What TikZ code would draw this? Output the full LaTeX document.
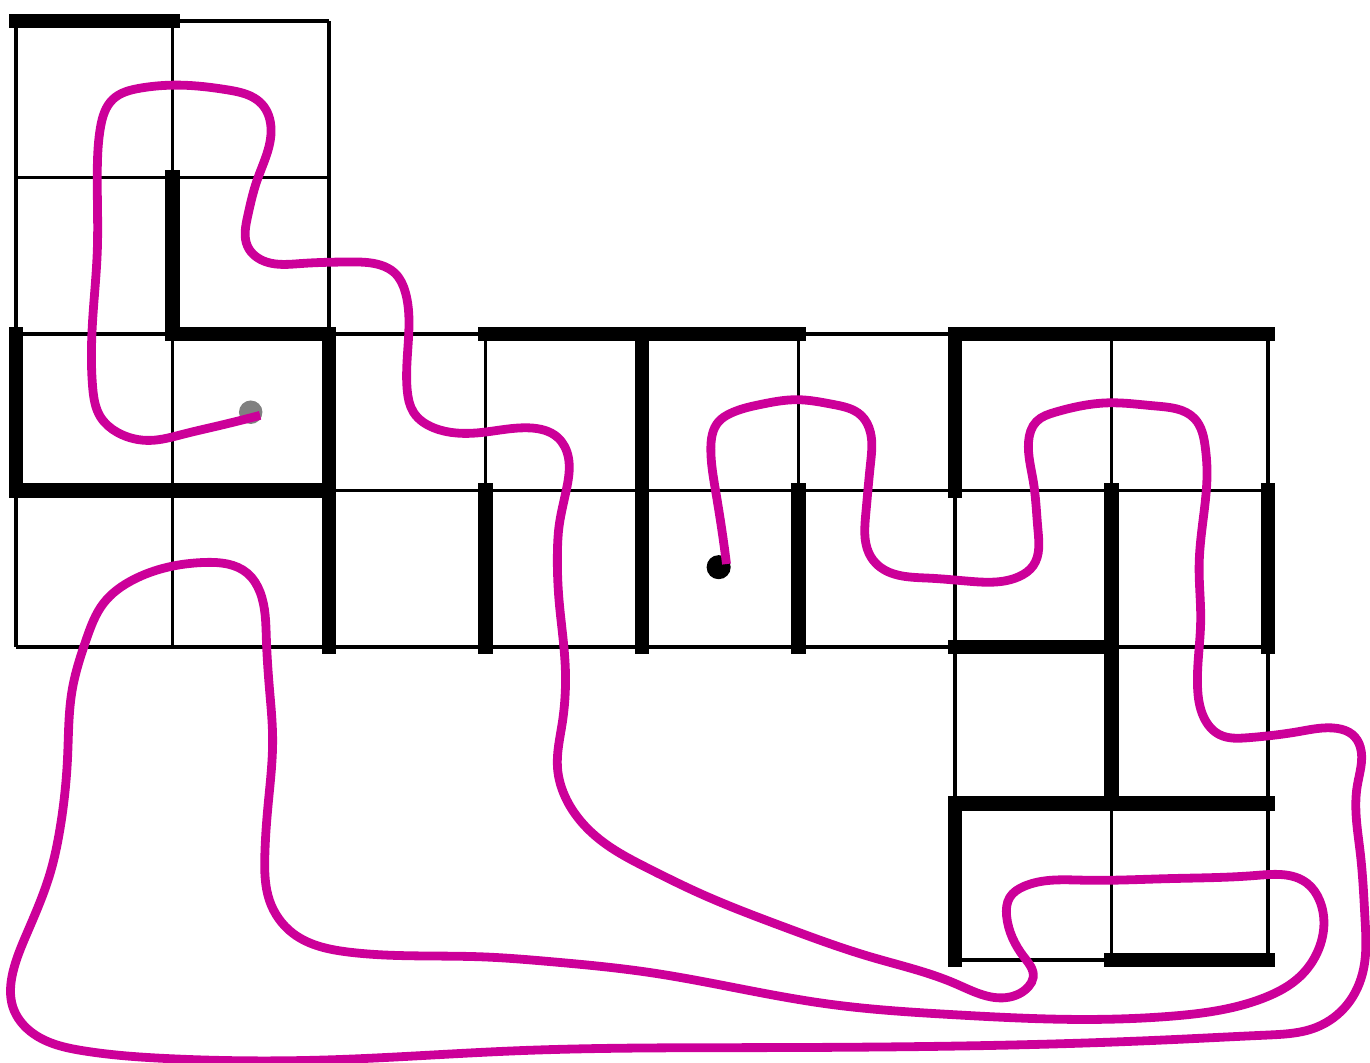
\documentclass[tikz,border=0pt]{standalone}
\usepackage{tikz}
\usetikzlibrary{hobby}
\definecolor{route}{RGB}{204,0,153}

\begin{document}
\begin{tikzpicture}[x=1cm,y=1cm,
    thin grid/.style={line width=0.63pt},
    wall/.style={line width=2.7pt, line cap=rect},
    route line/.style={route, line width=1.6pt, use Hobby shortcut}]
    \useasboundingbox (-0.102,-0.652) rectangle (8.652,6.134);

    % Cells of the maze
    \draw[thin grid] (0,4) grid (2,6);
    \draw[thin grid] (0,2) grid (8,4);
    \draw[thin grid] (6,0) grid (8,2);

    % Walls
    \draw[wall] (0,6) -- (1,6);
    \draw[wall] (1,5) -- (1,4) -- (2,4) -- (2,2);
    \draw[wall] (0,4) -- (0,3) -- (2,3);
    \draw[wall] (3,3) -- (3,2);
    \draw[wall] (3,4) -- (5,4);
    \draw[wall] (4,4) -- (4,2);
    \draw[wall] (5,3) -- (5,2);
    \draw[wall] (6,3) -- (6,4) -- (8,4);
    \draw[wall] (7,3) -- (7,1);
    \draw[wall] (6,2) -- (7,2);
    \draw[wall] (8,3) -- (8,2);
    \draw[wall] (6,0) -- (6,1) -- (8,1);
    \draw[wall] (7,0) -- (8,0);

    % Start and end points
    \coordinate (start) at (1.5,3.5);
    \coordinate (goal) at (4.49,2.51);
    \fill[gray] (start) circle (0.075);
    \fill[black] (goal) circle (0.077);

    % The route
    \draw[route line]
        (1.56,3.48) .. (1.28,3.41) .. (1.07,3.36) .. (0.86,3.32) .. (0.65,3.37) .. (0.54,3.47)
        .. (0.49,3.66) .. (0.49,4.09) .. (0.52,4.54) .. (0.52,5.07) .. (0.54,5.32) .. (0.62,5.50)
        .. (0.79,5.57) .. (1.05,5.59) .. (1.35,5.56) .. (1.57,5.47) .. (1.63,5.31)
        .. (1.54,4.98) .. (1.48,4.75) .. (1.48,4.56) .. (1.60,4.46) .. (1.82,4.45) .. (2.13,4.46)
        .. (2.33,4.44) .. (2.42,4.39) .. (2.49,4.26) .. (2.51,4.01) .. (2.50,3.64) .. (2.54,3.50)
        .. (2.67,3.40) .. (2.97,3.37) .. (3.28,3.40) .. (3.46,3.34) .. (3.53,3.21) .. (3.52,3.02)
        .. (3.47,2.77) .. (3.46,2.62) .. (3.47,2.30) .. (3.51,1.87) .. (3.49,1.51) .. (3.46,1.23)
        .. (3.52,1.02) .. (3.73,0.77) .. (4.05,0.58) .. (4.36,0.43) .. (4.91,0.21) .. (5.46,0.02)
        .. (6.00,-0.15) .. (6.33,-0.24) .. (6.47,-0.17) .. (6.50,-0.11) .. (6.44,0.02) .. (6.33,0.28)
        .. (6.35,0.40) .. (6.44,0.47) .. (6.82,0.51) .. (7.37,0.52) .. (7.92,0.54) .. (8.25,0.49)
        .. (8.33,0.38) .. (8.32,0.06) .. (8.20,-0.11) .. (7.98,-0.24) .. (7.37,-0.36) .. (6.82,-0.38)
        .. (6.00,-0.35) .. (5.18,-0.28) .. (4.05,-0.08) .. (3.41,-0.01) .. (2.98,0.02) .. (2.13,0.05)
        .. (1.77,0.17) .. (1.62,0.38) .. (1.59,0.66) .. (1.61,0.98) .. (1.64,1.41) .. (1.62,1.73)
        .. (1.60,2.05) .. (1.56,2.35) .. (1.48,2.47) .. (1.20,2.54) .. (0.97,2.51) .. (0.75,2.43)
        .. (0.56,2.28) .. (0.45,2.05) .. (0.36,1.73) .. (0.33,1.30) .. (0.28,0.83) .. (0.22,0.56)
        .. (0.07,0.17) .. (-0.02,-0.08) .. (-0.02,-0.30) .. (0.11,-0.47) .. (0.43,-0.58) .. (0.97,-0.63)
        .. (1.94,-0.64) .. (3.20,-0.58) .. (4.69,-0.56) .. (6.50,-0.54) .. (7.36,-0.51) .. (7.99,-0.48)
        .. (8.31,-0.43) .. (8.51,-0.28) .. (8.61,-0.06) .. (8.62,0.26) .. (8.59,0.68) .. (8.57,1.11)
        .. (8.59,1.36) .. (8.54,1.44) .. (8.44,1.48) .. (8.20,1.46) .. (7.87,1.42) .. (7.69,1.44)
        .. (7.59,1.55) .. (7.55,1.74) .. (7.57,2.17) .. (7.56,2.52) .. (7.59,2.85) .. (7.61,3.15)
        .. (7.60,3.27) .. (7.53,3.46) .. (7.28,3.54) .. (6.98,3.56) .. (6.64,3.50) .. (6.52,3.44)
        .. (6.47,3.31) .. (6.50,3.06) .. (6.53,2.75) .. (6.50,2.52) .. (6.41,2.45) .. (6.09,2.42)
        .. (5.83,2.44) .. (5.51,2.52) .. (5.45,2.60) .. (5.43,2.85) .. (5.46,3.17) .. (5.46,3.37)
        .. (5.40,3.48) .. (5.22,3.55) .. (4.99,3.58) .. (4.76,3.55) .. (4.56,3.49) .. (4.49,3.44)
        .. (4.44,3.27) .. (4.47,3.00) .. (4.51,2.75) .. (4.54,2.53);
\end{tikzpicture}
\end{document}
